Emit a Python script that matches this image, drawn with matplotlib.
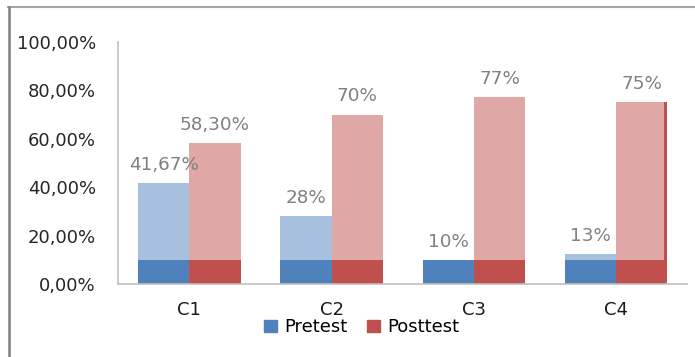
import numpy as np
import matplotlib.pyplot as plt
from matplotlib.lines import Line2D
from matplotlib.patches import Patch

# Data
categories = ["C1", "C2", "C3", "C4"]
pretest = [0.4167, 0.28, 0.10, 0.125]
posttest = [0.583, 0.70, 0.773, 0.752]
pretest_labels = ["41,67%", "28%", "10%", "13%"]
posttest_labels = ["58,30%", "70%", "77%", "75%"]
y_ticks = [0.0, 0.2, 0.4, 0.6, 0.8, 1.0]
y_tick_labels = ["0,00%", "20,00%", "40,00%", "60,00%", "80,00%", "100,00%"]

BASE = 0.10  # height of the saturated bottom band
BAR_W = 0.36

BLUE, BLUE_LIGHT = "#4F81BD", "#A7C0DE"
RED, RED_LIGHT = "#C0504D", "#DFA7A6"

plt.rcParams["font.family"] = ["DejaVu Sans"]

fig = plt.figure(figsize=(6.95, 3.57), dpi=100)
ax = fig.add_axes([0.170, 0.2045, 0.819, 0.678])

x = np.arange(len(categories))
series = [
    (pretest, pretest_labels, -BAR_W / 2, BLUE, BLUE_LIGHT),
    (posttest, posttest_labels, BAR_W / 2, RED, RED_LIGHT),
]
for vals, labels, off, dark, light in series:
    vals = np.array(vals)
    base = np.minimum(vals, BASE)
    ax.bar(x + off, base, BAR_W, color=dark, linewidth=0)
    ax.bar(x + off, vals - base, BAR_W, bottom=base, color=light, linewidth=0)
    for xi, v, lab in zip(x + off, vals, labels):
        ax.annotate(lab, (xi, v), xytext=(0, 9.5), textcoords="offset points",
                    ha="center", va="baseline", fontsize=13.2, color="#808080")

# thin darker edge on the last posttest bar
last = len(categories) - 1
ax.bar(x[last] + BAR_W - 0.012, posttest[last], 0.024, color=RED, linewidth=0)

ax.set_xlim(-0.5, len(categories) - 0.5)
ax.set_ylim(0, 1.0)
ax.set_yticks(y_ticks)
ax.set_yticklabels(y_tick_labels, fontsize=13, color="#262626")
ax.set_xticks(x)
ax.set_xticklabels(categories, fontsize=13, color="#1a1a1a")
ax.tick_params(axis="y", length=0, pad=16)
ax.tick_params(axis="x", length=0, pad=12)

for side in ["top", "right"]:
    ax.spines[side].set_visible(False)
ax.spines["left"].set_color("#BFBFBF")
ax.spines["bottom"].set_color("#BFBFBF")
ax.spines["left"].set_linewidth(1.2)
ax.spines["bottom"].set_linewidth(1.2)

handles = [Patch(color=BLUE, label="Pretest"), Patch(color=RED, label="Posttest")]
fig.legend(handles=handles, loc="center", bbox_to_anchor=(0.52, 0.083), ncol=2,
           frameon=False, fontsize=13, handlelength=0.7, handleheight=0.7,
           handletextpad=0.4, columnspacing=1.1)

# outer frame pieces (top and left edges)
fig.add_artist(Line2D([0.012, 1.0], [0.980, 0.980], transform=fig.transFigure,
                      color="#A6A6A6", linewidth=1.5))
fig.add_artist(Line2D([0.013, 0.013], [0.0, 0.980], transform=fig.transFigure,
                      color="#808080", linewidth=1.8))

fig.savefig("out.png", dpi=100)
